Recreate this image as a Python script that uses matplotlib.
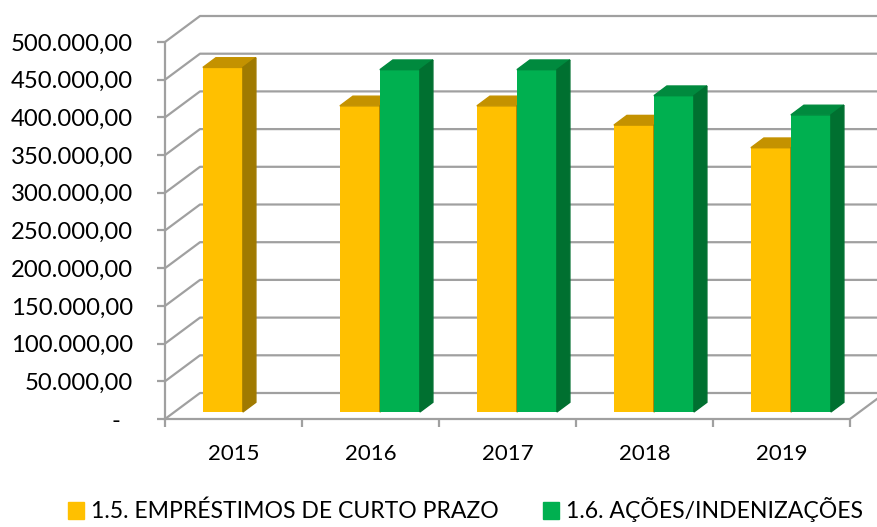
import matplotlib
matplotlib.use("Agg")
import matplotlib.pyplot as plt
from matplotlib.patches import Polygon, Patch

plt.rcParams['font.family'] = ['Lato', 'DejaVu Sans']

years = ['2015', '2016', '2017', '2018', '2019']
emprestimos = [457000, 406000, 406000, 380500, 350500]
acoes = [None, 454000, 454000, 419500, 394000]
ticks = list(range(0, 500001, 50000))

# pixel geometry of the fake 3d box
W, H = 877, 527
X0, Y0 = 165, 419          # front-left corner of the floor
CAT = 137.0                # px per category
PXV = 50000 / 37.7         # value per pixel

def fmt(v):
    if v == 0:
        return '-  '
    return f"{v:,.2f}".replace(',', '#').replace('.', ',').replace('#', '.')

fig = plt.figure(figsize=(W / 100, H / 100), dpi=100)
ax = fig.add_axes([X0 / W, (H - Y0) / H, (W - X0) / W, (Y0 - 5) / H])
ax.set_xlim(-0.5, -0.5 + (W - X0) / CAT)
ax.set_ylim(0, (Y0 - 5) * PXV)
ax.patch.set_visible(False)

# depth offsets
dxw, dyw = 35 / CAT, 26 * PXV        # wall
dxb, dyb = 9.4 / CAT, 7 * PXV        # bar placement
dxs, dys = 13 / CAT, 9.7 * PXV       # bar depth
bw = 40 / CAT

grid = '#a0a0a0'
for v in ticks:
    ax.plot([-0.5, -0.5 + dxw, 6], [v, v + dyw, v + dyw], color=grid, lw=1.6,
            zorder=1, solid_capstyle='butt')
ax.plot([4.5, 4.5 + dxw], [0, dyw], color=grid, lw=1.6, zorder=1)

cols = [('#ffc000', '#c49200', '#a07a00'), ('#00b050', '#008a3e', '#007030')]
for i in range(len(years)):
    for j, vals in enumerate([emprestimos, acoes]):
        v = vals[i]
        if v is None:
            continue
        front, top, side = cols[j]
        xl = i - bw + j * bw + dxb
        ax.bar(xl, v, bottom=dyb, width=bw, align='edge', color=front, zorder=3 + i * 3 + j)
        ax.add_patch(Polygon([(xl, dyb + v), (xl + bw, dyb + v), (xl + bw + dxs, dyb + v + dys),
                              (xl + dxs, dyb + v + dys)], closed=True, color=top, zorder=3 + i * 3 + j))
        ax.add_patch(Polygon([(xl + bw, dyb), (xl + bw + dxs, dyb + dys), (xl + bw + dxs, dyb + v + dys),
                              (xl + bw, dyb + v)], closed=True, color=side, zorder=3 + i * 3 + j))

for s in ['top', 'right']:
    ax.spines[s].set_visible(False)
for s in ['left', 'bottom']:
    ax.spines[s].set_color(grid)
    ax.spines[s].set_linewidth(1.6)
ax.spines['left'].set_bounds(0, 500000)
ax.spines['bottom'].set_bounds(-0.5, 4.5)

ax.set_yticks(ticks)
ax.set_yticklabels([fmt(v) for v in ticks])
ax.tick_params(axis='y', length=6, width=1.6, color=grid, pad=17, labelsize=17.2)
ax.set_xticks([k - 0.5 for k in range(6)])
ax.set_xticklabels([])
ax.set_xticks(range(5), minor=True)
ax.set_xticklabels(years, minor=True)
ax.tick_params(axis='x', which='major', length=6, width=1.6, color=grid)
ax.tick_params(axis='x', which='minor', length=0, pad=18, labelsize=16)

handles = [Patch(color='#ffc000', label='1.5. EMPRÉSTIMOS DE CURTO PRAZO'),
           Patch(color='#00b050', label='1.6. AÇÕES/INDENIZAÇÕES')]
fig.legend(handles=handles, loc='center', bbox_to_anchor=(0.531, 1 - 510 / H), ncol=2,
           frameon=False, fontsize=16.6, handlelength=0.7, handleheight=0.7,
           handletextpad=0.3, columnspacing=1.9)

fig.savefig('out.png', dpi=100)
